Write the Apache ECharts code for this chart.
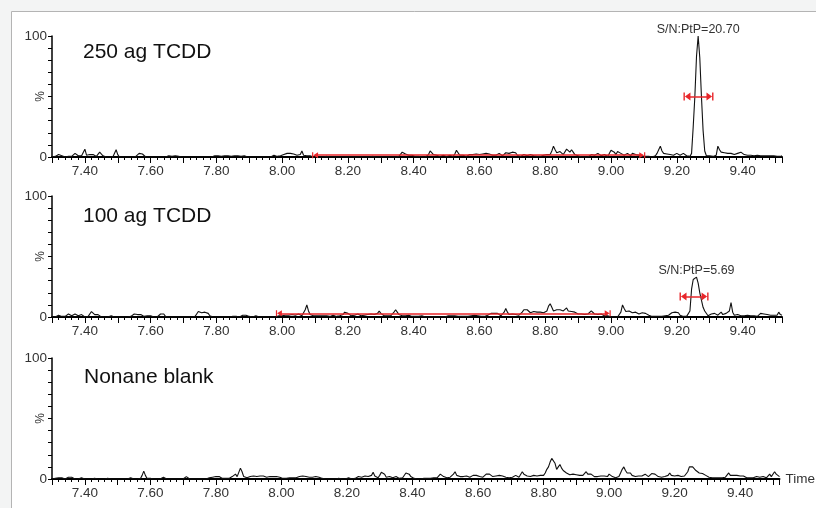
<!DOCTYPE html>
<html>
<head>
<meta charset="utf-8">
<title>TCDD chromatograms</title>
<script src="https://cdn.jsdelivr.net/npm/echarts@6/dist/echarts.min.js"></script>
<style>
  html, body { margin: 0; padding: 0; background: #f3f4f4; }
  #chart { width: 816px; height: 508px; }
</style>
</head>
<body>
<div id="chart"></div>
<script>
// Sampling grid shared by all three traces (minutes)
const startTime = 7.30;
const sampleStep = 0.005;

// Relative intensity (%) per sample, 20 samples (0.1 min) per row
const trace250 = [
  0,0.5,0.5,1,2,2,1,0,0,0.5,0.5,0,0.5,1.5,3,2.5,1,0.5,1,2,
  6.5,1.5,0.5,2,2.5,2,1.5,0.5,1.5,4,3.5,1,0,0,0.5,0,0,0,1,6,
  2,0,0,0,0,0,0.5,0,0,0,0,0.5,1,3,3.5,2.5,1,0,0,0,
  0,0,0,0,0,0,0,0,0,0,0.5,1,1,0.5,0,1,1,0.5,0,0,
  0,0,0,0,0,0,0,0,0,0,0,0,0,0,0,0,0,0,0.5,1,
  2,1,0,0.5,1,1,0.5,1,1,0.5,0,1,1.5,1,0,0.5,1,1,0.5,0,
  0,0,0.5,0,0,0,0.5,0,0,0,0,0,0.5,0,1,1.5,1,0.5,1.5,1,
  1.5,2,3,3,3,3,3,2.5,3,1.5,1,2,5,1.5,0.5,1,0.5,1,0.5,0,
  0,0,0,0,0,0,0,0.5,0,0,0,0,0,0,0,0,0.5,0,0,0,
  0,0,0,0,0.5,0,0,0,0,0,0,0,0,0,0,0.5,0,0,0,0,
  0,0,0,0,0,0,0,0,0,0,0,0.5,2,4,4,2.5,1,1.5,1,1.5,
  1,0.5,1,0.5,0,0,0,0,0.5,2,5,6,2,1,1.5,1,0.5,1,1.5,1,
  0.5,1,1.5,1,0.5,2.5,5.5,4,1.5,1,1.5,1,0.5,1,2,3,2,3,2.5,3,
  2,3,2.5,2,3,1.5,2.5,3,1.5,1,1.5,2.5,3,1.5,1,2,3.5,4,3,3.5,
  4,3,3.5,1.5,1,0.5,1,2,1.5,1,1.5,2,1.5,1,0.5,0.5,1,0.5,1,1.5,
  2,2,1.5,2,5,9,6,3.5,4,4.5,3.5,2,3.5,6.5,5,4,6,4,2,3,
  1,0.5,0,0.5,0,0.5,0,0.5,2,2.5,1.5,2,3,2,1,2.5,2,1,0.5,2,
  5.5,6,4,2,4.5,5,3,2,1.5,2,3,1.5,1,3,1.5,2,2,1.5,0.5,0.5,
  0,0.5,0,0.5,0,0,0.5,1,3,6,9,5,3,4,2.5,3.5,2,3.5,1.5,1,
  3,3,1.5,2.5,3,2,1,0.5,0.5,3,25,50,83,100,82,50,22,5,1,1.5,
  1,1,0.5,1,1.5,9,6,4,5,3.5,5,3,2,3,2.5,2,3,3,2,4,
  2.5,2,2,1.5,2,1.5,1,1,2,1.5,1.5,1,1,1,1,1,1.5,1,0.5,1,
  1,0.5,1,0.5,1
];

const trace100 = [
  0,0.5,0,1,1.5,1,0.5,0,0.5,1.5,2.5,1.5,1,2,2.5,1.5,1,1.5,2,1,
  0,0,0.5,2,4.5,4,2,2,2,1.5,0,0,0,0,0,0.5,1,0.5,0,0,
  0,0,0,0,0,0,0,0,0.5,2,2.5,2.5,2,1.5,2,1.5,0.5,0,1,2,
  1,0,0,0,0,0.5,2.5,4,2.5,0.5,0,0,0,0,0,0,0,0,0,0,
  0,0,0,0,0,0,0,0.5,2.5,4.5,5,3.5,3,4,5,3,1,0.5,0,0,
  0,0,0,0,0,0,0,0,0,0,0.5,1.5,0.5,0,0,0.5,1.5,1,1.5,1,
  0.5,0,0,0.5,1,0.5,0,0,0,0,0,0,0,0,0,0,0,0.5,1,0.5,
  1,2.5,1.5,2,1.5,1,2,1,1.5,2,2.5,1.5,1,2,6,10,5,2,1.5,1,
  1.5,1,1.5,1,0.5,1,1.5,1,1,0.5,1,1.5,1,0.5,1,1,1.5,2,4,5,
  3,1.5,1,2,1.5,2,2.5,1.5,1,2,1.5,1,2,1.5,2.5,4,2,1.5,3,5,
  3,1.5,1,0.5,1,0.5,1,2,4,6,4,2,1.5,1,1.5,1,1,1.5,1,0.5,
  1,0.5,0,0.5,0.5,1,0.5,0,0,0,0,0,0.5,0,0,0,0,0,0,0,
  0.5,1,0.5,1,0.5,1,1,0.5,1,0.5,1,0.5,1,0.5,1,1,0.5,1.5,2,1,
  0.5,0.5,1,0.5,1,1.5,2.5,3,2.5,3,2,3,2,1,1.5,4,7,4,2,1.5,
  2.5,3,2,2.5,1.5,2,4,6,7,6,5,3.5,4,4.5,3.5,4,3,4,5,3.5,
  3,5,9,11,8,5,4,6,5.5,6,4.5,5,6,7.5,5,4,4.5,3.5,4,3,
  2.5,3.5,2.5,3,2,3.5,2.5,3,5,3.5,2.5,3,2,3,2.5,1.5,1,1.5,1,0.5,
  0,0,0,0,0,0.5,4,10,7,4.5,4,5,4,3.5,5,4,3,2.5,3,3.5,
  2.5,3,2,1.5,1,0.5,1,0.5,1,0.5,1,0.5,0.5,1,0.5,1.5,3,3.5,2.5,4,
  3,3.5,1.5,1,0.5,1,0.5,1,5,23,31,30,33,28,20,14,8,5,4,1,
  1,2.5,2,3,2,1.5,2.5,4,2,2.5,3,2,5,12,4,1.5,1,2,1.5,1,
  1.5,1,1,1.5,0.5,1,1.5,1,1,0.5,1,3,3,2.5,3,2,3,1.5,2,1.5,
  2.5,1.5,4,2,1.5
];

const traceBlank = [
  0,0,0.5,1,1,0.5,1,0,0,0.5,1.5,2,1.5,0.5,0,0,0,0.5,1,0.5,
  0,0,0,0,0,0,0.5,0,0,0,0,0,0,1,0.5,0,0,0,0,0,
  0,0,0,0,0,0,0,1,1,0.5,0,0,0,0,0.5,3,6.5,3,0.5,1,
  0.5,0,0,0,0,0,0,0.5,1.5,0.5,0,0,0,0,0,0,0,0,0,0,
  0,1,2,1,0,0,0,0,0,0,0,0,0,0,0,0,1,2,1.5,2,
  2,1.5,2,1,0.5,0.5,0.5,1,0.5,1,2,1,4,2,1,9,6,2,1,1,
  0.5,2,3,2.5,3,2,3,2.5,3,2.5,3,1.5,2.5,2,3,2,2.5,2,3,1.5,
  1,0.5,1,0.5,1,1,0.5,1,2,1,1,2,3,2.5,3,2,1,1.5,1,1.5,
  1,2,1,1.5,1,0.5,0.5,0,0.5,0,0,0,0,0,0,0.5,0,0,0,0,
  0.5,1,0.5,0,0,0.5,1,2,2,1.5,2,2.5,2,2,1,3,5.5,2.5,1,1,
  3,5.5,7,4,1.5,1,2,1.5,1,1.5,2,1,0.5,0.5,1,2.5,5,6,4,2,
  1,0.5,0.5,0,0.5,0,0,0.5,0,0.5,0,0.5,0.5,1,0.5,1,2,4,5,2,
  1,1,2,1.5,2,4,6,3,1.5,2,2.5,2,3,2.5,2,1.5,2,3,3.5,3,
  3.5,2,1,1.5,2,4,5.5,4,2.5,2,3,2.5,2,3,2,2.5,2,1.5,2,1,
  1,1.5,2,3,2,1.5,3,6,4,3,2.5,3,2,2.5,3,2,2.5,2,3,2.5,
  3,5,8,10,14,17,18,13,8,10,12,9,7,7,5,4,3.5,3,4,3,
  3.5,3,3,4,3,4,6,4,5,4,2.5,2,2.5,2,3,2.5,2,2.5,3,2,
  4,3,2,1,1,1,2,5,8,10,7,5,4.5,5,3,2.5,2,3,2.5,2,
  2.5,3,4,3,2,3,4.5,6,4,2.5,2,2,1.5,2,2,1.5,3,5,3,2,
  2.5,2,3,2.5,2,3,2.5,3,6,10,11.5,10,9,7,6,5,4,4.5,5,3,
  2,1.5,2,1,1.5,1,2,1,1.5,1,2,1.5,3,5,3,2.5,3,2,3,3,
  2.5,3,2.5,1.5,1,1.5,1,2,1,1.5,2,1,1.5,1,2,1.5,1,2,4,2,
  2.5,6,4,2.5,2
];

const sampleNames = ['250 ag TCDD', '100 ag TCDD', 'Nonane blank'];

// Signal-to-noise annotations: apex time, apex intensity, text
const snApexTimes = [9.265, 9.26];
const snApexValues = [100, 33];
const snTexts = ['S/N:PtP=20.70', 'S/N:PtP=5.69'];

// Noise window (start, end, drawn level) and peak width bracket (start, end, level)
const noiseWindows = [[8.10, 9.095], [7.99, 8.99]];
const noiseLevels = [1.5, 3];
const widthWindows = [[9.231, 9.301], [9.219, 9.286]];
const widthLevels = [50, 17];

const xMin = 7.30, xMax = 9.52;
const FONT = '"Liberation Sans", Arial, sans-serif';
const RED = '#e8262a';
const TICK_FONT = 13.5;

// bar + outward arrowhead used at both ends of the red brackets
const bracketEnd = 'path://M0,0 L10,0 L10,2 L0,2 Z M5,2 L10,10 L0,10 Z';

function toPoints(trace) {
  return trace.map((v, i) => [+(startTime + i * sampleStep).toFixed(3), v]);
}

const traces = [trace250, trace100, traceBlank];
const gridTops = [36, 196, 358];
const gridHeight = 121;

const grids = gridTops.map(top => ({ left: 52, right: 34, top: top, height: gridHeight }));

const xAxes = gridTops.map((_, k) => ({
  type: 'value', gridIndex: k, min: xMin, max: xMax, interval: 0.1,
  axisLine: { show: true, onZero: false, lineStyle: { color: '#000', width: 2 } },
  axisTick: { show: true, length: 6, lineStyle: { color: '#000', width: 1 } },
  minorTick: { show: true, splitNumber: 5, length: 3, lineStyle: { color: '#000', width: 1 } },
  splitLine: { show: false }, minorSplitLine: { show: false },
  axisLabel: {
    margin: 7, fontSize: TICK_FONT, color: '#333', fontFamily: FONT,
    formatter: v => {
      const k10 = Math.round(v * 10);
      if (Math.abs(v * 10 - k10) > 1e-6) return '';
      return k10 % 2 === 0 ? (k10 / 10).toFixed(2) : '';
    }
  },
  name: k === 2 ? 'Time' : '', nameLocation: 'end', nameGap: 6,
  nameTextStyle: { fontSize: TICK_FONT, color: '#333', fontFamily: FONT }
}));

// Intensity axis: a tick every 10 %, only 0 and 100 labelled
const yAxes = gridTops.map((_, k) => ({
  type: 'value', gridIndex: k, min: 0, max: 100, interval: 10,
  axisLine: { show: true, lineStyle: { color: '#000', width: 1.5 } },
  axisTick: { show: true, length: 4, lineStyle: { color: '#000', width: 1 } },
  splitLine: { show: false },
  axisLabel: {
    margin: 5, fontSize: TICK_FONT, color: '#333', fontFamily: FONT,
    formatter: v => (v === 0 || v === 100 ? String(v) : '')
  }
}));

const series = traces.map((trace, k) => {
  const s = {
    type: 'line', xAxisIndex: k, yAxisIndex: k,
    data: toPoints(trace), showSymbol: false, symbol: 'none',
    lineStyle: { color: '#111', width: 1.1 },
    animation: false, silent: true, z: 3
  };
  if (k < 2) {
    s.markLine = {
      silent: true, animation: false,
      symbol: [bracketEnd, bracketEnd],
      lineStyle: { color: RED, width: 1.5, type: 'solid' },
      label: { show: false },
      data: [
        [
          { coord: [noiseWindows[k][0], noiseLevels[k]], symbolSize: [6, 6] },
          { coord: [noiseWindows[k][1], noiseLevels[k]], symbolSize: [6, 6] }
        ],
        [
          { coord: [widthWindows[k][0], widthLevels[k]], symbolSize: [8, 7] },
          { coord: [widthWindows[k][1], widthLevels[k]], symbolSize: [8, 7] }
        ]
      ]
    };
    s.markPoint = {
      silent: true, animation: false, symbol: 'circle', symbolSize: 0,
      label: {
        show: true, position: 'top', distance: 0,
        fontSize: 12.5, color: '#333', fontFamily: FONT,
        formatter: snTexts[k]
      },
      data: [{ coord: [snApexTimes[k], snApexValues[k]] }]
    };
  }
  return s;
});

const labelY = [52.5, 216, 377];
const labelX = [83, 83, 84];

const chart = echarts.init(document.getElementById('chart'), null, { renderer: 'canvas' });
const baseGraphics = [
  {
    type: 'rect', z: 0, silent: true,
    shape: { x: 11.5, y: 11.5, width: 830, height: 520 },
    style: { fill: '#ffffff', stroke: '#b4b4b4', lineWidth: 1 }
  }
].concat(sampleNames.map((name, k) => ({
  type: 'text', z: 10, silent: true,
  x: labelX[k], y: labelY[k],
  style: { text: name, font: '21px ' + FONT, fill: '#111', verticalAlign: 'middle' }
})));

chart.setOption({
  backgroundColor: '#f3f4f4',
  animation: false,
  graphic: baseGraphics,
  grid: grids,
  xAxis: xAxes,
  yAxis: yAxes,
  series: series
});

// "%" unit sits beside the 50 % tick of each intensity axis
const unitMarks = gridTops.map((_, k) => {
  const p = chart.convertToPixel({ gridIndex: k }, [xMin, 50]);
  return {
    type: 'text', z: 10, silent: true,
    x: p[0] - 11, y: p[1], rotation: Math.PI / 2,
    style: { text: '%', font: '12px ' + FONT, fill: '#333', align: 'center', verticalAlign: 'middle' }
  };
});
chart.setOption({ graphic: baseGraphics.concat(unitMarks) });
</script>
</body>
</html>
